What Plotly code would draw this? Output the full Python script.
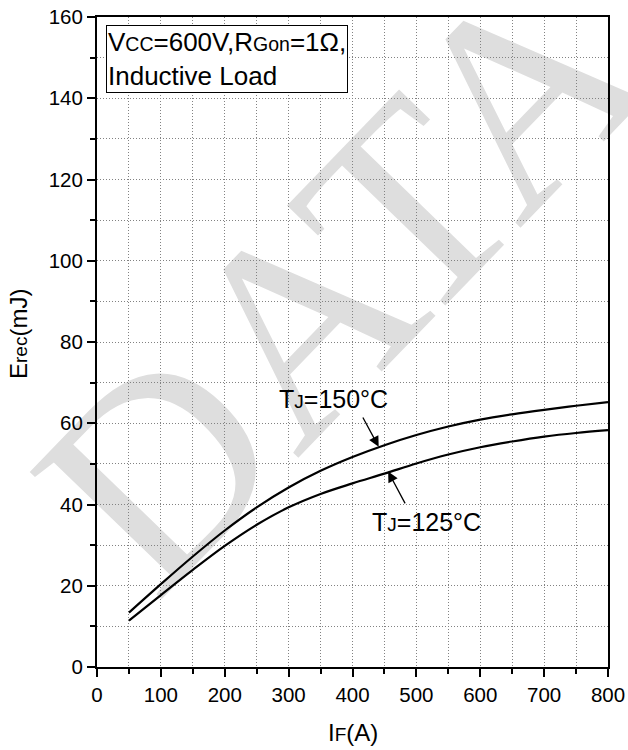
import plotly.graph_objects as go

# Reverse recovery energy vs forward current
current_a = [50, 100, 150, 200, 250, 300, 350, 400, 450, 500, 550, 600, 650, 700, 750, 800]
erec_150c = [13.4, 20.4, 27.2, 33.6, 39.3, 44.2, 48.3, 51.7, 54.6, 57.1, 59.2, 60.9, 62.2, 63.3, 64.3, 65.2]
erec_125c = [11.4, 17.7, 23.9, 29.8, 35.0, 39.3, 42.6, 45.2, 47.6, 50.1, 52.3, 54.1, 55.5, 56.7, 57.6, 58.3]

x_ticks = [0, 100, 200, 300, 400, 500, 600, 700, 800]
y_ticks = [0, 20, 40, 60, 80, 100, 120, 140, 160]

FONT = "Liberation Sans"
GRID = "rgb(130,130,130)"
DOTS = "1px,2px"
SMALL = "<span style='font-size:19px'>{}</span>"
SMALL_BOX = "<span style='font-size:19.5px'>{}</span>"

fig = go.Figure()
for ys in (erec_150c, erec_125c):
    fig.add_trace(go.Scatter(
        x=current_a, y=ys, mode="lines",
        line=dict(color="black", width=2.2, shape="spline", smoothing=1.0),
        showlegend=False, hoverinfo="skip",
    ))

axis_common = dict(
    ticks="outside", ticklen=8, tickwidth=2, tickcolor="black",
    showline=True, linewidth=2, linecolor="black", mirror=True,
    showgrid=True, gridcolor=GRID, griddash=DOTS, gridwidth=1,
    zeroline=False, tickfont=dict(family=FONT, size=20.5, color="black"),
)
fig.update_xaxes(range=[0, 800], tickvals=x_ticks,
                 minor=dict(dtick=50, tick0=0, ticks="outside", ticklen=5, tickwidth=2,
                            tickcolor="black", showgrid=True, gridcolor=GRID,
                            griddash=DOTS, gridwidth=1),
                 **axis_common)
fig.update_yaxes(range=[0, 160], tickvals=y_ticks,
                 minor=dict(dtick=10, tick0=0, ticks="outside", ticklen=5, tickwidth=2,
                            tickcolor="black", showgrid=True, gridcolor=GRID,
                            griddash=DOTS, gridwidth=1),
                 **axis_common)

# light "DATA" watermark under the grid
fig.add_shape(type="rect", xref="paper", yref="paper",
              x0=0.3825, x1=0.4825, y0=0.579, y1=0.679,
              line=dict(width=0), fillcolor="rgba(0,0,0,0)", layer="below",
              label=dict(text="DATA", textangle=-46, textposition="middle center",
                         font=dict(family="Liberation Serif", size=280,
                                   color="rgb(222,222,222)")))

annotations = [
    dict(text="V" + SMALL_BOX.format("CC") + "=600V,R" + SMALL_BOX.format("Gon") + "=1Ω,<br>Inductive Load",
         xref="paper", yref="paper", x=0.0176, y=0.988, xanchor="left", yanchor="top",
         align="left", showarrow=False, bgcolor="white", bordercolor="black",
         borderwidth=1, borderpad=1, font=dict(family=FONT, size=26, color="black")),
    dict(text="T" + SMALL.format("J") + "=150°C", x=371, y=66, xref="x", yref="y",
         showarrow=False, font=dict(family=FONT, size=25, color="black")),
    dict(text="T" + SMALL.format("J") + "=125°C", x=516, y=35.8, xref="x", yref="y",
         showarrow=False, font=dict(family=FONT, size=25, color="black")),
    dict(text="", x=441, y=54.2, ax=415, ay=61.8, xref="x", yref="y", axref="x", ayref="y",
         showarrow=True, arrowhead=2, arrowsize=1.6, arrowwidth=1.3, arrowcolor="black", standoff=0),
    dict(text="", x=455.8, y=48.1, ax=483.6, ay=39.9, xref="x", yref="y", axref="x", ayref="y",
         showarrow=True, arrowhead=2, arrowsize=1.6, arrowwidth=1.3, arrowcolor="black", standoff=0),
    dict(text="I" + SMALL.format("F") + "(A)", xref="paper", yref="paper",
         x=0.5, y=(667 - 732) / 650, xanchor="center", yanchor="middle",
         showarrow=False, font=dict(family=FONT, size=24, color="black")),
    dict(text="E" + SMALL.format("rec") + "(mJ)", xref="paper", yref="paper",
         x=(19 - 97) / 511, y=(667 - 334) / 650, xanchor="center", yanchor="middle",
         textangle=-90, showarrow=False, font=dict(family=FONT, size=24, color="black")),
]

fig.update_layout(
    width=628, height=750,
    margin=dict(l=97, r=20, t=17, b=83, autoexpand=False),
    paper_bgcolor="white", plot_bgcolor="white",
    font=dict(family=FONT, color="black"),
    annotations=annotations,
    showlegend=False,
)

fig.write_html("out.html")
